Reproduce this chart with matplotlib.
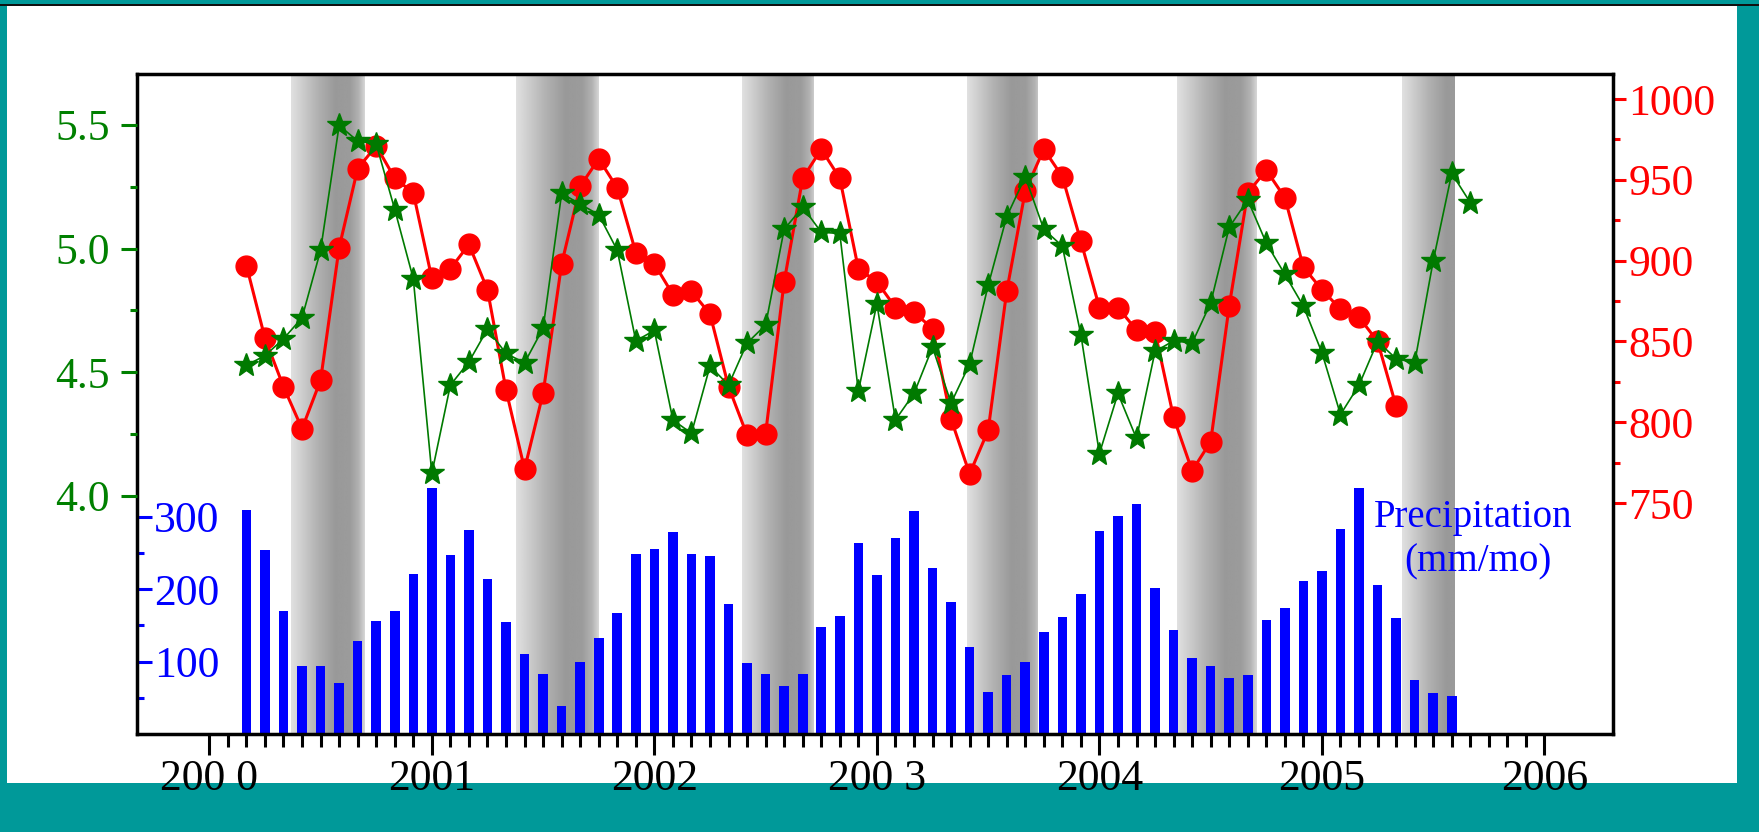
import numpy as np
import pandas as pd
import matplotlib
matplotlib.use('Agg')
import matplotlib.pyplot as plt
from matplotlib.ticker import FixedLocator, FixedFormatter, NullFormatter
from matplotlib.patches import Rectangle

plt.rcParams['font.family'] = ['Liberation Serif', 'DejaVu Serif']

# ---------------- data ----------------
start_month = '2000-03'

precip = [309, 254, 170, 94, 94, 70, 128, 156, 170, 221,
          340, 247, 282, 214, 154, 110, 83, 39, 100, 132,
          167, 249, 255, 279, 249, 246, 180, 98, 83, 66,
          83, 148, 163, 263, 219, 271, 308, 229, 182, 120,
          58, 81, 100, 141, 162, 193, 280, 301, 318, 202,
          144, 105, 94, 77, 81, 158, 174, 211, 225, 283,
          339, 206, 160, 74, 56, 52]

red_series = [897, 852, 822, 796, 826, 908, 957, 971, 951, 942,
              889, 895, 910, 882, 820, 771, 818, 898, 946, 963,
              945, 905, 898, 879, 881, 867, 822, 792, 793, 887,
              951, 969, 951, 895, 887, 871, 868, 858, 802, 768,
              795, 881, 943, 969, 952, 912, 871, 871, 857, 856,
              803, 770, 788, 872, 942, 956, 939, 896, 882, 870,
              865, 850, 810]

green_series = [4.528, 4.567, 4.635, 4.72, 4.993, 5.498, 5.435, 5.423, 5.158, 4.878,
                4.091, 4.448, 4.542, 4.674, 4.576, 4.538, 4.678, 5.223, 5.180, 5.137,
                4.993, 4.627, 4.669, 4.307, 4.253, 4.525, 4.448, 4.618, 4.691, 5.078,
                5.168, 5.066, 5.061, 4.423, 4.777, 4.307, 4.414, 4.601, 4.375, 4.533,
                4.851, 5.129, 5.29, 5.078, 5.01, 4.652, 4.171, 4.414, 4.232, 4.584,
                4.627, 4.618, 4.78, 5.086, 5.197, 5.022, 4.896, 4.767, 4.579, 4.329,
                4.448, 4.624, 4.555, 4.538, 4.95, 5.304, 5.186]

band_starts = [2000.367, 2001.378, 2002.392, 2003.406, 2004.347, 2005.359]
band_ends = [2000.699, 2001.748, 2002.714, 2003.723, 2004.704, 2005.594]

year_ticks = [2000, 2001, 2002, 2003, 2004, 2005, 2006]
year_labels = ['200 0', '2001', '2002', '200 3', '2004', '2005', '2006']

green_ticks = [4.0, 4.5, 5.0, 5.5]
green_labels = ['4.0', '4.5', '5.0', '5.5']
green_minor = [4.25, 4.75, 5.25]

red_ticks = [750, 800, 850, 900, 950, 1000]
red_minor = [775, 825, 875, 925, 975]

precip_ticks = [100, 200, 300]
precip_minor = [50, 150, 250]


def month_positions(n):
    d = pd.date_range(start_month, periods=n, freq='MS')
    return np.asarray(d.year + (d.month - 1) / 12.0, dtype=float)


x_p = month_positions(len(precip))
x_r = month_positions(len(red_series))
x_g = month_positions(len(green_series))

# ---------------- figure ----------------
W, H = 1759, 832
TEAL = '#009999'
fig = plt.figure(figsize=(W / 100, H / 100), dpi=100, facecolor=TEAL)
fig.patches.append(Rectangle((7 / W, 1 - 783 / H), (1737 - 7) / W, (783 - 6) / H,
                             transform=fig.transFigure, facecolor='white',
                             edgecolor='none', zorder=-10))
fig.patches.append(Rectangle((0, 1 - 6 / H), 1, 2 / H, transform=fig.transFigure,
                             facecolor='#101010', edgecolor='none', zorder=-10))

ax = fig.add_axes([137 / W, 1 - 734 / H, (1613 - 137) / W, (734 - 74) / H])
ax_r = ax.twinx()
ax_g = ax.twinx()

XL = (1999.675, 2006.308)
PL = (0, 911)

# shaded bands
prof_t = [0, 0.1, 0.35, 0.6, 0.8, 0.92, 1.0]
prof_g = [0.88, 0.83, 0.70, 0.60, 0.61, 0.70, 0.84]
for s, e in zip(band_starts, band_ends):
    w = max(e - s, 0.33)
    xs = np.linspace(s, e, 300)
    g = np.interp((xs - s) / w, prof_t, prof_g)
    img = np.tile(g, (2, 1))
    ax.imshow(img, extent=[s, e, PL[0], PL[1]], aspect='auto', cmap='gray',
              vmin=0, vmax=1, zorder=1, interpolation='bilinear')

ax.bar(x_p, precip, width=0.043, color='#0000ff', zorder=2)
ax.set_xlim(*XL)
ax.set_ylim(*PL)

# frame
for sp in ['left', 'top', 'bottom']:
    ax.spines[sp].set_linewidth(2.5)
    ax.spines[sp].set_color('black')
ax.spines['right'].set_position(('axes', 0))
ax.spines['right'].set_visible(False)

# x axis
ax.xaxis.set_ticks_position('bottom')
ax.xaxis.set_major_locator(FixedLocator(year_ticks))
ax.xaxis.set_major_formatter(FixedFormatter(year_labels))
minor_x = [y + m / 12.0 for y in range(2000, 2006) for m in range(1, 12)]
ax.xaxis.set_minor_locator(FixedLocator(minor_x))
ax.xaxis.set_minor_formatter(NullFormatter())
ax.tick_params(axis='x', which='major', direction='out', length=15, width=2.2,
               color='black', labelsize=31.5, pad=3)
ax.tick_params(axis='x', which='minor', direction='out', length=9, width=2.2,
               color='black')

# precipitation axis (inside, on left)
ax.yaxis.tick_right()
ax.yaxis.set_major_locator(FixedLocator(precip_ticks))
ax.yaxis.set_minor_locator(FixedLocator(precip_minor))
ax.yaxis.set_minor_formatter(NullFormatter())
ax.tick_params(axis='y', which='major', direction='out', length=11, width=2.2,
               colors='blue', labelsize=31.5, pad=1)
ax.tick_params(axis='y', which='minor', direction='out', length=5, width=2.2,
               colors='blue')

# red axis (right)
ax_r.plot(x_r, red_series, '-', color='#ff0000', lw=2.2, marker='o', ms=15,
          mfc='#ff0000', mec='#ff0000', zorder=3)
ax_r.set_ylim(607.1, 1015.5)
ax_r.yaxis.set_major_locator(FixedLocator(red_ticks))
ax_r.yaxis.set_minor_locator(FixedLocator(red_minor))
ax_r.yaxis.set_minor_formatter(NullFormatter())
ax_r.tick_params(axis='y', which='major', direction='out', length=9, width=2.2,
                 colors='#ff0000', labelsize=31.5, pad=2)
ax_r.tick_params(axis='y', which='minor', direction='out', length=5, width=2.2,
                 colors='#ff0000')
for sp in ['left', 'top', 'bottom']:
    ax_r.spines[sp].set_visible(False)
ax_r.spines['right'].set_linewidth(2.5)
ax_r.spines['right'].set_color('black')

# green axis (left)
ax_g.plot(x_g, green_series, '-', color='#007a00', lw=1.2, marker='*', ms=18,
          mfc='#007a00', mec='#007a00', zorder=4)
ax_g.set_ylim(3.037, 5.706)
ax_g.yaxis.tick_left()
ax_g.yaxis.set_label_position('left')
ax_g.yaxis.set_major_locator(FixedLocator(green_ticks))
ax_g.yaxis.set_major_formatter(FixedFormatter(green_labels))
ax_g.yaxis.set_minor_locator(FixedLocator(green_minor))
ax_g.yaxis.set_minor_formatter(NullFormatter())
ax_g.tick_params(axis='y', which='major', direction='out', length=11.5, width=2.2,
                 colors='#008000', labelsize=31.5, pad=8)
ax_g.tick_params(axis='y', which='minor', direction='out', length=5, width=2.2,
                 colors='#008000')
for sp in ax_g.spines.values():
    sp.set_visible(False)

for a in (ax, ax_r, ax_g):
    a.set_xlim(*XL)

fig.text(1473 / W, 1 - 526.7 / H, 'Precipitation', color='#0000ff', fontsize=28,
         ha='center', va='baseline')
fig.text(1478 / W, 1 - 571.7 / H, '(mm/mo)', color='#0000ff', fontsize=28,
         ha='center', va='baseline')

fig.savefig('out.png', dpi=100, facecolor=fig.get_facecolor())
